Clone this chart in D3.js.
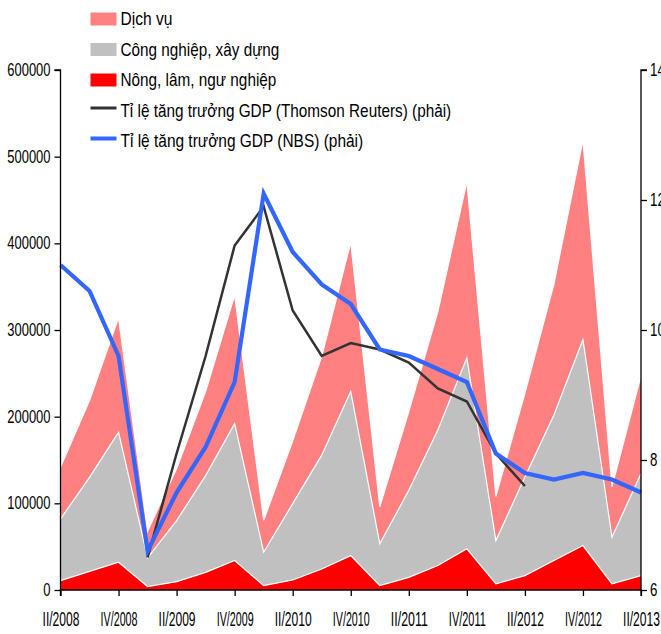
<!DOCTYPE html>
<html>
<head>
<meta charset="utf-8">
<script src="https://cdn.jsdelivr.net/npm/d3@7"></script>
<style>
  html, body { margin: 0; padding: 0; background: #fff; }
  svg { display: block; }
  text { font-family: "Liberation Sans", Arial, sans-serif; fill: #000; }
</style>
</head>
<body>
<svg id="chart" width="661" height="634"></svg>
<script>
// Quarters (cumulative year-to-date GDP, 100 million yuan)
const quarters = [
  "II/2008", "III/2008", "IV/2008",
  "I/2009", "II/2009", "III/2009", "IV/2009",
  "I/2010", "II/2010", "III/2010", "IV/2010",
  "I/2011", "II/2011", "III/2011", "IV/2011",
  "I/2012", "II/2012", "III/2012", "IV/2012",
  "I/2013", "II/2013"
];

// Sector values (stacked)
const nongLamNgu = [
  10800, 21500, 32000,
  4000, 9600, 20400, 34000,
  5000, 11600, 24300, 39700,
  5000, 14600, 28200, 47500,
  7000, 16600, 34000, 51300,
  7000, 16600
];
const congNghiepXayDung = [
  71200, 108500, 150000,
  33000, 70400, 111600, 158000,
  38600, 88000, 131300, 189300,
  48300, 100400, 156400, 220200,
  50000, 113900, 168000, 237700,
  54000, 117800
];
const dichVu = [
  59500, 88500, 132000,
  31000, 60000, 97000, 148000,
  36900, 72400, 113900, 172000,
  42700, 91000, 136400, 203300,
  51000, 96500, 151000, 230000,
  58000, 112600
];

// GDP growth rates, % (right axis); null = no value
const growthReuters = [
  null, null, null,
  6.5, 8.1, 9.6, 11.3,
  11.9, 10.3, 9.6, 9.8,
  9.7, 9.5, 9.1, 8.9,
  8.1, 7.6, null, null,
  null, null
];
const growthNBS = [
  11.0, 10.6, 9.6,
  6.6, 7.5, 8.2, 9.2,
  12.1, 11.2, 10.7, 10.4,
  9.7, 9.6, 9.4, 9.2,
  8.1, 7.8, 7.7, 7.8,
  7.7, 7.5
];

const xTickLabels = ["II/2008", "IV/2008", "II/2009", "IV/2009", "II/2010", "IV/2010",
                     "II/2011", "IV/2011", "II/2012", "IV/2012", "II/2013"];
const leftTicks = [0, 100000, 200000, 300000, 400000, 500000, 600000];
const rightTicks = [6, 8, 10, 12, 14];

const seriesNames = ["Dịch vụ", "Công nghiệp, xây dựng", "Nông, lâm, ngư nghiệp",
  "Tỉ lệ tăng trưởng GDP (Thomson Reuters) (phải)", "Tỉ lệ tăng trưởng GDP (NBS) (phải)"];

const colors = {
  dichVu: "#ff8080",
  congNghiep: "#c0c0c0",
  nong: "#ff0000",
  reuters: "#333333",
  nbs: "#3366ff"
};

const svg = d3.select("#chart");
const plotLeft = 60.5, plotRight = 641, plotTop = 70, plotBottom = 590;

const x = d3.scalePoint().domain(quarters).range([plotLeft, plotRight]);
const yL = d3.scaleLinear().domain([0, 600000]).range([plotBottom, plotTop]);
const yR = d3.scaleLinear().domain([6, 14]).range([plotBottom, plotTop]);

// Squeeze a text horizontally about its anchor point so it spans `target` px
function squeeze(sel, targetFn) {
  sel.each(function (d, i) {
    const t = d3.select(this);
    const w = this.getComputedTextLength();
    const target = targetFn(d, i);
    if (!w || !target) return;
    const s = target / w;
    const tx = +t.attr("x") || 0;
    const ty = +t.attr("y") || 0;
    t.attr("transform", `translate(${tx},${ty}) scale(${s},1) translate(${-tx},${-ty})`);
  });
}

// Stacked areas
const rows = quarters.map((q, i) => ({
  q, nong: nongLamNgu[i], congNghiep: congNghiepXayDung[i], dichVu: dichVu[i]
}));
const stack = d3.stack().keys(["nong", "congNghiep", "dichVu"]);
const layers = stack(rows);

const area = d3.area()
  .x(d => x(d.data.q))
  .y0(d => yL(d[0]))
  .y1(d => yL(d[1]));
const topLine = d3.line()
  .x(d => x(d.data.q))
  .y(d => yL(d[1]));

const gAreas = svg.append("g");
gAreas.selectAll("path.area")
  .data(layers)
  .join("path")
  .attr("class", "area")
  .attr("fill", d => colors[d.key])
  .attr("d", area);
gAreas.selectAll("path.edge")
  .data(layers)
  .join("path")
  .attr("class", "edge")
  .attr("fill", "none")
  .attr("stroke", "#fff")
  .attr("stroke-width", 1.2)
  .attr("stroke-linejoin", "miter")
  .attr("d", topLine);

// Growth lines
const growthLine = d3.line()
  .defined(d => d.v !== null)
  .x(d => x(d.q))
  .y(d => yR(d.v));

svg.append("path")
  .datum(quarters.map((q, i) => ({ q, v: growthReuters[i] })))
  .attr("fill", "none")
  .attr("stroke", colors.reuters)
  .attr("stroke-width", 2.5)
  .attr("stroke-linejoin", "miter")
  .attr("d", growthLine);

svg.append("path")
  .datum(quarters.map((q, i) => ({ q, v: growthNBS[i] })))
  .attr("fill", "none")
  .attr("stroke", colors.nbs)
  .attr("stroke-width", 4.2)
  .attr("stroke-linejoin", "miter")
  .attr("d", growthLine);

// Axes
const leftAxis = d3.axisLeft(yL).tickValues(leftTicks).tickSize(6).tickPadding(4)
  .tickFormat(d3.format("d"));
const gL = svg.append("g").attr("transform", `translate(${plotLeft},0)`).call(leftAxis);
gL.select(".domain").attr("d", `M-6,${plotTop}H0V${plotBottom}`).attr("stroke", "#000").attr("stroke-width", 1.3);

const rightAxis = d3.axisRight(yR).tickValues(rightTicks).tickSize(6).tickPadding(3);
const gR = svg.append("g").attr("transform", `translate(${plotRight},0)`).call(rightAxis);
gR.select(".domain").attr("d", `M6,${plotTop}H0V${plotBottom}`).attr("stroke", "#000").attr("stroke-width", 1.3);

const bottomAxis = d3.axisBottom(x).tickValues(xTickLabels).tickSize(6).tickPadding(16);
const gB = svg.append("g").attr("transform", `translate(0,${plotBottom})`).call(bottomAxis);
gB.select(".domain").attr("d", `M${plotLeft},6V0H${plotRight}V6`).attr("stroke", "#000").attr("stroke-width", 1.3);

[gL, gR, gB].forEach(g => {
  g.selectAll(".tick line").attr("stroke", "#000").attr("stroke-width", 1.3);
  g.selectAll("text").attr("font-family", null).attr("fill", "#000");
});
gL.selectAll("text").attr("font-size", 17.5);
squeeze(gL.selectAll("text"), d => 7.2 * String(d).length);
gR.selectAll("text").attr("font-size", 17.5);
squeeze(gR.selectAll("text"), d => 7.4 * String(d).length);
gB.selectAll("text").attr("font-size", 20);
squeeze(gB.selectAll("text"), () => 37);

// Legend
const legendX = 90.5, legendY0 = 25.5, legendStep = 30.5;
const legendItems = [
  { name: seriesNames[0], type: "rect", color: colors.dichVu, w: 52 },
  { name: seriesNames[1], type: "rect", color: colors.congNghiep, w: 159 },
  { name: seriesNames[2], type: "rect", color: colors.nong, w: 156 },
  { name: seriesNames[3], type: "line", color: colors.reuters, w: 331, sw: 3 },
  { name: seriesNames[4], type: "line", color: colors.nbs, w: 243, sw: 4 }
];
const gLeg = svg.append("g");
legendItems.forEach((it, i) => {
  const by = legendY0 + i * legendStep;
  if (it.type === "rect") {
    gLeg.append("rect")
      .attr("x", legendX).attr("y", by - 13)
      .attr("width", 26).attr("height", 13)
      .attr("fill", it.color);
  } else {
    gLeg.append("line")
      .attr("x1", legendX).attr("x2", legendX + 26)
      .attr("y1", by - 9).attr("y2", by - 9)
      .attr("stroke", it.color).attr("stroke-width", it.sw);
  }
  const t = gLeg.append("text")
    .attr("x", legendX + 30).attr("y", by)
    .attr("font-size", 18)
    .text(it.name);
  squeeze(t, () => it.w);
});
</script>
</body>
</html>
